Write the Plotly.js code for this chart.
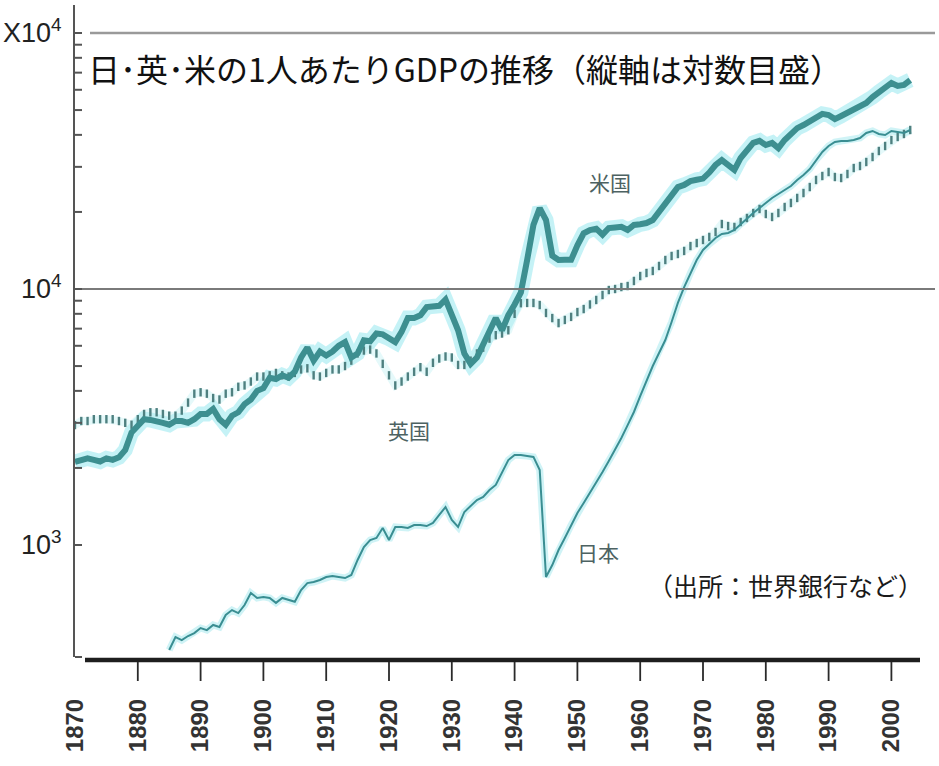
<!DOCTYPE html>
<html>
<head>
<meta charset="utf-8">
<script src="https://cdn.plot.ly/plotly-3.0.1.min.js"></script>
<style>
  html, body { margin: 0; padding: 0; background: #ffffff; }
  #chart { width: 939px; height: 766px; }
</style>
</head>
<body>
<div id="chart"></div>
<script>
// ---- data (GDP per capita) ----
const yearsUSUK = [];
for (let y = 1870; y <= 2003; y++) yearsUSUK.push(y);
const yearsJapan = [];
for (let y = 1885; y <= 2003; y++) yearsJapan.push(y);

const usValues = [
  2110, 2150, 2180, 2150, 2120, 2180, 2150, 2200, 2350, 2750,
  2950, 3100, 3080, 3050, 3000, 2950, 3050, 3050, 3000, 3100,
  3250, 3250, 3400, 3100, 2950, 3200, 3300, 3550, 3700, 4000,
  4100, 4500, 4450, 4600, 4500, 4750, 5400, 5900, 5250, 5700,
  5500, 5700, 6000, 6200, 5400, 5600, 6300, 6250, 6700, 6650,
  6400, 6200, 6800, 7700, 7700, 7900, 8500, 8500, 8600, 9100,
  8000, 6900, 5600, 5100, 5400, 6100, 7000, 7700, 6900, 7900,
  8700, 9700, 13000, 17800, 20700, 18600, 13500, 12980, 13000, 13000,
  14800, 16500, 17000, 17200, 16300, 17300, 17400, 17500, 17000, 17800,
  17900, 18100, 18600, 20000, 21700, 23300, 25000, 25500, 26400, 26700,
  27000, 28500, 30500, 31900, 30500, 29200, 32500, 34900, 37200, 37900,
  36500, 37200, 35500, 38200, 40700, 42500, 43700, 45300, 47000, 48300,
  47800, 46100, 47400, 48700, 50000, 51400, 53300, 56200, 58800, 61500,
  63800, 62100, 62700, 65500
];

const ukValues = [
  2940, 3050, 3050, 3100, 3100, 3100, 3100, 3050, 3000, 2950,
  3100, 3250, 3300, 3300, 3250, 3200, 3200, 3350, 3600, 3900,
  3950, 3900, 3750, 3700, 3900, 3950, 4150, 4200, 4350, 4550,
  4550, 4600, 4700, 4600, 4550, 4700, 4850, 4900, 4600, 4550,
  4700, 4850, 4850, 5000, 5250, 5600, 5750, 5800, 5600, 5100,
  4600, 4200, 4350, 4550, 4750, 4950, 4750, 5150, 5350, 5450,
  5400, 5050, 5050, 5250, 5600, 5900, 6400, 6600, 6700, 6900,
  8000, 8800, 8820, 8820, 8660, 8060, 7700, 7360, 7570, 7780,
  8130, 8350, 8700, 9060, 9475, 9910, 10000, 10180, 10270, 10750,
  11240, 11550, 11760, 12300, 12980, 13460, 13700, 14080, 14720, 15120,
  15540, 15970, 16700, 17940, 17620, 17470, 18270, 18940, 19810, 20540,
  19630, 19110, 19810, 20910, 21680, 22680, 23710, 25020, 26660, 27630,
  28640, 27380, 27130, 28130, 29690, 30230, 31340, 32780, 34600, 36190,
  38190, 39250, 40320, 41800
];

const japanValues = [
  389, 437, 425, 441, 453,
  474, 465, 487, 478, 533, 557, 542, 583, 649, 621,
  627, 621, 594, 621, 610, 600, 667, 710, 717, 730,
  750, 757, 750, 743, 764, 874, 982, 1046, 1065, 1165,
  1046, 1176, 1176, 1165, 1197, 1197, 1186, 1219, 1310, 1407,
  1252, 1176, 1346, 1420, 1499, 1540, 1640, 1716, 1929, 2147,
  2247, 2247, 2228, 2208, 1963, 750, 835, 956, 1065, 1197,
  1334, 1459, 1596, 1747, 1929, 2129, 2350, 2618, 2940, 3308,
  3819, 4410, 5003, 5623, 6320, 7430, 8820, 10180, 11550, 12980,
  14200, 14990, 15820, 16400, 16550, 17000, 17940, 18940, 19810, 20720,
  21680, 22680, 23500, 24360, 25250, 26660, 27880, 29430, 31910, 34290,
  36190, 37520, 37860, 37860, 38190, 38890, 40680, 41430, 40320, 39960,
  41430, 41060, 40680, 41800
];

const xTickYears = [1870, 1880, 1890, 1900, 1910, 1920, 1930, 1940, 1950, 1960, 1970, 1980, 1990, 2000];
const yMajorValues = [1000, 10000, 100000];
const yMajorLabels = ["10<sup>3</sup>", "10<sup>4</sup>", "X10<sup>4</sup>"];
const yMinorValues = [2000, 3000, 4000, 5000, 6000, 7000, 8000, 9000,
  20000, 30000, 40000, 50000, 60000, 70000, 80000, 90000];
const gridValues = [10000, 100000];

const titleText = "日･英･米の1人あたりGDPの推移（縦軸は対数目盛）";
const labelUS = "米国";
const labelUK = "英国";
const labelJapan = "日本";
const sourceText = "（出所：世界銀行など）";

// ---- traces ----
const halo = 'rgba(150,232,238,0.55)';
const traces = [
  { x: yearsUSUK, y: usValues, mode: 'lines', line: { color: halo, width: 15 }, hoverinfo: 'skip' },
  { x: yearsJapan, y: japanValues, mode: 'lines', line: { color: 'rgba(160,232,238,0.5)', width: 7 }, hoverinfo: 'skip' },
  { x: yearsUSUK, y: ukValues, mode: 'lines', line: { color: 'rgba(190,240,242,0.4)', width: 8 }, hoverinfo: 'skip' },
  { x: yearsUSUK, y: ukValues, mode: 'markers', name: labelUK,
    marker: { symbol: 'line-ns-open', size: 6, color: '#4e8080', line: { color: '#4e8080', width: 2.4 } } },
  { x: yearsJapan, y: japanValues, mode: 'lines', name: labelJapan, line: { color: '#3a8e92', width: 2 } },
  { x: yearsUSUK, y: usValues, mode: 'lines', name: labelUS, line: { color: '#3d8f90', width: 6 } }
];

const plotLeft = 75, plotRight = 935, plotTop = 5, plotBottom = 657;
const W = 939, H = 766;
const pw = plotRight - plotLeft, ph = plotBottom - plotTop;
const px = v => (v - plotLeft) / pw;
const py = v => (plotBottom - v) / ph;

const jpFont = '"Noto Sans CJK JP", "Noto Sans CJK SC", sans-serif';

// axis tick marks drawn as shapes so they are clearly visible
const tickShapes = [];
xTickYears.filter(yr => yr > 1870).forEach(yr => {
  tickShapes.push({ type: 'line', xref: 'x', yref: 'paper', x0: yr, x1: yr, y0: py(662), y1: py(681),
    line: { color: '#2a2a2a', width: 1.8 } });
});
yMajorValues.concat(yMinorValues).forEach(v => {
  tickShapes.push({ type: 'line', xref: 'paper', yref: 'y', x0: 0, x1: px(82), y0: v, y1: v,
    line: { color: '#555', width: 2 } });
});

const layout = {
  width: W, height: H,
  margin: { l: plotLeft, r: W - plotRight, t: plotTop, b: H - plotBottom },
  paper_bgcolor: '#ffffff', plot_bgcolor: '#ffffff',
  showlegend: false,
  xaxis: {
    range: [1870, 1870 + pw / 6.28],
    tickvals: xTickYears,
    ticktext: xTickYears.map(String),
    tickangle: -90,
    ticks: '',
    ticklabelstandoff: 36,
    tickfont: { family: '"Liberation Sans", Arial, sans-serif', size: 24, color: '#333', weight: 'bold' },
    showline: false, showgrid: false, zeroline: false
  },
  yaxis: {
    type: 'log',
    range: [3 - (plotBottom - 545) / 256, 3 + (545 - plotTop) / 256],
    tickvals: yMajorValues,
    ticktext: yMajorLabels,
    ticks: '',
    ticklabelstandoff: 6,
    tickfont: { family: '"Liberation Sans", Arial, sans-serif', size: 27, color: '#222' },
    showline: true, linecolor: '#555', linewidth: 2,
    showgrid: false, zeroline: false
  },
  shapes: [
    { type: 'line', xref: 'paper', yref: 'y', x0: 0, x1: 1, y0: gridValues[0], y1: gridValues[0],
      line: { color: '#7a7a7a', width: 2 } },
    { type: 'line', xref: 'paper', yref: 'y', x0: px(90), x1: 1, y0: gridValues[1], y1: gridValues[1],
      line: { color: '#9a9a9a', width: 2.5 } },
    { type: 'line', xref: 'paper', yref: 'paper', x0: px(85), x1: px(920), y0: py(660), y1: py(660),
      line: { color: '#1e1e1e', width: 4.5 } },
    { type: 'line', xref: 'paper', yref: 'paper', x0: 0, x1: px(82), y0: 0, y1: 0,
      line: { color: '#555', width: 2 } }
  ].concat(tickShapes),
  annotations: [
    { xref: 'paper', yref: 'paper', x: px(86), y: py(68), xanchor: 'left', yanchor: 'middle',
      text: titleText, showarrow: false, font: { family: jpFont, size: 32, color: '#111' } },
    { xref: 'paper', yref: 'paper', x: px(610), y: py(182), xanchor: 'center', yanchor: 'middle',
      text: labelUS, showarrow: false, font: { family: jpFont, size: 21, color: '#4d6262' } },
    { xref: 'paper', yref: 'paper', x: px(409), y: py(430), xanchor: 'center', yanchor: 'middle',
      text: labelUK, showarrow: false, font: { family: jpFont, size: 21, color: '#4d6262' } },
    { xref: 'paper', yref: 'paper', x: px(598), y: py(552), xanchor: 'center', yanchor: 'middle',
      text: labelJapan, showarrow: false, font: { family: jpFont, size: 21, color: '#4d6262' } },
    { xref: 'paper', yref: 'paper', x: px(785), y: py(585), xanchor: 'center', yanchor: 'middle',
      text: sourceText, showarrow: false, font: { family: jpFont, size: 25, color: '#1a1a1a' } }
  ]
};

Plotly.newPlot('chart', traces, layout, { staticPlot: true, displayModeBar: false });
</script>
</body>
</html>
